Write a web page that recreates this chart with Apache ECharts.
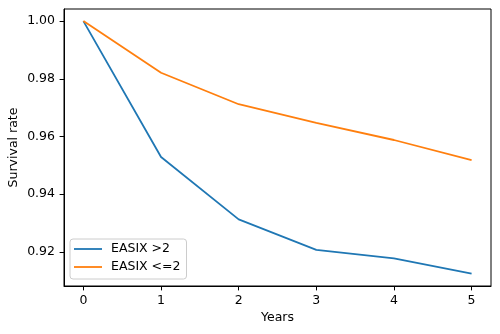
<!DOCTYPE html>
<html>
<head>
<meta charset="utf-8">
<script src="https://cdn.jsdelivr.net/npm/echarts@6/dist/echarts.min.js"></script>
<style>
  html, body { margin: 0; padding: 0; background: #fff; }
  #chart { width: 500px; height: 334px; }
</style>
</head>
<body>
<div id="chart"></div>
<script>
// Survival curves by EASIX group over five years
const years = [0, 1, 2, 3, 4, 5];
const easixHigh = [1.0, 0.9529, 0.9313, 0.9207, 0.9178, 0.9125];
const easixLow = [1.0, 0.9821, 0.9712, 0.9647, 0.9588, 0.9518];
const seriesNames = ['EASIX >2', 'EASIX <=2'];
const xTicks = [0, 1, 2, 3, 4, 5];
const yTicks = [0.92, 0.94, 0.96, 0.98, 1.00];

const font = 'DejaVu Sans';
const fs = 12.5;
const chart = echarts.init(document.getElementById('chart'), null, { renderer: 'canvas' });

const pairs = (ys) => years.map((x, i) => [x, ys[i]]);

chart.setOption({
  animation: false,
  backgroundColor: '#fff',
  grid: {
    left: 64, top: 9, right: 9, bottom: 48,
    outerBoundsMode: 'none', containLabel: false,
    show: true, borderColor: '#000', borderWidth: 1, backgroundColor: 'transparent'
  },
  xAxis: {
    type: 'value',
    min: -0.25, max: 5.25,
    name: 'Years', nameLocation: 'middle', nameGap: 25, nameMoveOverlap: false,
    nameTextStyle: { fontFamily: font, fontSize: fs, color: '#000' },
    axisLine: { show: true, onZero: false, lineStyle: { color: '#000', width: 1 } },
    axisTick: { show: true, length: 4.4, customValues: xTicks, lineStyle: { color: '#000', width: 1 } },
    axisLabel: {
      customValues: xTicks, margin: 8,
      fontFamily: font, fontSize: fs, color: '#000',
      formatter: (v) => String(v)
    },
    splitLine: { show: false }
  },
  yAxis: {
    type: 'value',
    min: 0.9082, max: 1.0042,
    name: 'Survival rate', nameLocation: 'middle', nameGap: 44, nameRotate: 90, nameMoveOverlap: false,
    nameTextStyle: { fontFamily: font, fontSize: fs, color: '#000' },
    axisLine: { show: true, onZero: false, lineStyle: { color: '#000', width: 1 } },
    axisTick: { show: true, length: 4.4, customValues: yTicks, lineStyle: { color: '#000', width: 1 } },
    axisLabel: {
      customValues: yTicks, margin: 9,
      fontFamily: font, fontSize: fs, color: '#000',
      formatter: (v) => v.toFixed(2)
    },
    splitLine: { show: false }
  },
  legend: {
    orient: 'vertical',
    left: 70, top: 239,
    data: seriesNames,
    icon: 'rect',
    itemWidth: 28, itemHeight: 1.8, itemGap: 4,
    padding: [3, 6, 5, 4],
    borderColor: '#cccccc', borderWidth: 1, borderRadius: 3,
    backgroundColor: 'rgba(255,255,255,0.8)',
    textStyle: { fontFamily: font, fontSize: fs, lineHeight: 14, color: '#000', padding: [0, 0, 0, 4] }
  },
  series: [
    {
      name: seriesNames[0], type: 'line', data: pairs(easixHigh),
      showSymbol: false, symbol: 'none', color: '#1f77b4',
      lineStyle: { width: 1.8, color: '#1f77b4' }
    },
    {
      name: seriesNames[1], type: 'line', data: pairs(easixLow),
      showSymbol: false, symbol: 'none', color: '#ff7f0e',
      lineStyle: { width: 1.8, color: '#ff7f0e' }
    }
  ]
});
</script>
</body>
</html>
